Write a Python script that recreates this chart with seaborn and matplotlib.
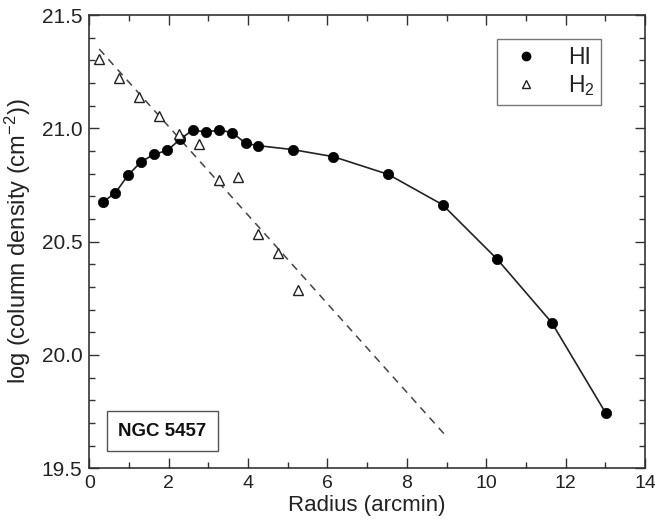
import numpy as np
import pandas as pd
import matplotlib
matplotlib.use("Agg")
import matplotlib.pyplot as plt
from matplotlib.lines import Line2D
from matplotlib.ticker import MultipleLocator
import seaborn as sns

# ---- data ----
hi_r = [0.34, 0.66, 0.98, 1.31, 1.63, 1.97, 2.29, 2.61, 2.95, 3.27, 3.60, 3.94, 4.24,
        5.13, 6.15, 7.53, 8.90, 10.28, 11.65, 13.01]
hi_logn = [20.674, 20.716, 20.794, 20.853, 20.885, 20.903, 20.952, 20.993, 20.983, 20.993,
           20.981, 20.934, 20.924, 20.906, 20.875, 20.797, 20.663, 20.422, 20.143, 19.744]
h2_r = [0.24, 0.74, 1.25, 1.76, 2.25, 2.76, 3.26, 3.75, 4.24, 4.75, 5.25]
h2_logn = [21.304, 21.224, 21.138, 21.056, 20.976, 20.931, 20.772, 20.787, 20.534, 20.449, 20.287]
fit_r = [0.25, 9.0]
fit_logn = [21.35, 19.64]
legend_labels = ["HI", "H$_2$"]
galaxy = "NGC 5457"

sns.set_style("ticks")
plt.rcParams["font.family"] = ["Liberation Sans", "DejaVu Sans"]
plt.rcParams["mathtext.default"] = "regular"

fig = plt.figure(figsize=(6.55, 5.27), dpi=100)
ax = fig.add_axes([0.1363, 0.1114, 0.8484, 0.8601])

hi = pd.DataFrame({"r": hi_r, "v": hi_logn})
h2 = pd.DataFrame({"r": h2_r, "v": h2_logn})
fit = pd.DataFrame({"r": fit_r, "v": fit_logn})

sns.lineplot(data=fit, x="r", y="v", ax=ax, color="#444444", lw=1.1,
             linestyle=(0, (5, 4)), sort=False)
sns.lineplot(data=hi, x="r", y="v", ax=ax, color="#222222", lw=1.2, sort=False)
sns.scatterplot(data=hi, x="r", y="v", ax=ax, marker="o", s=55, color="black",
                edgecolor="black", linewidth=0.5, zorder=5)
ax.plot(h2["r"], h2["v"], linestyle="none", marker="^", markersize=7,
        markerfacecolor="white", markeredgecolor="#222222", markeredgewidth=1.0, zorder=5)

ax.set_xlim(0, 14)
ax.set_ylim(19.5, 21.5)
ax.xaxis.set_major_locator(MultipleLocator(2))
ax.xaxis.set_minor_locator(MultipleLocator(1))
ax.yaxis.set_major_locator(MultipleLocator(0.5))
ax.yaxis.set_minor_locator(MultipleLocator(0.1))
ax.tick_params(which="both", direction="in", top=True, right=True, colors="#333333",
               labelcolor="#222222", width=1.0)
ax.tick_params(which="major", length=7, labelsize=15, pad=5)
ax.tick_params(axis="x", which="major", labelsize=14)
ax.tick_params(which="minor", length=4)
ax.set_yticks([19.5, 20.0, 20.5, 21.0, 21.5])
ax.set_yticklabels(["19.5", "20.0", "20.5", "21.0", "21.5"])
for s in ax.spines.values():
    s.set_color("#333333")
    s.set_linewidth(1.2)

ax.set_xlabel("Radius (arcmin)", fontsize=16, color="#222222", labelpad=2)
ax.set_ylabel("log (column density (cm$^{-2}$))", fontsize=17, color="#222222", labelpad=6)

handles = [
    Line2D([], [], linestyle="none", marker="o", markersize=6, color="black"),
    Line2D([], [], linestyle="none", marker="^", markersize=5.5, markerfacecolor="white",
           markeredgecolor="#222222", markeredgewidth=1.0),
]
leg = ax.legend(handles, legend_labels, loc="upper left", bbox_to_anchor=(0.733, 0.946),
                frameon=True, fancybox=False, edgecolor="#555555", fontsize=16.5,
                handlelength=2.0, handletextpad=0.8, borderpad=0.3, labelspacing=0.15,
                borderaxespad=0)
leg.get_frame().set_linewidth(1.0)
for t in leg.get_texts():
    t.set_color("#222222")

ax.text(0.052, 0.082, galaxy, transform=ax.transAxes, fontsize=13.5, fontweight="bold",
        ha="left", va="center", color="#111111",
        bbox=dict(boxstyle="square,pad=0.6", facecolor="white", edgecolor="#555555", lw=1.0))

fig.savefig("out.png", dpi=100)
